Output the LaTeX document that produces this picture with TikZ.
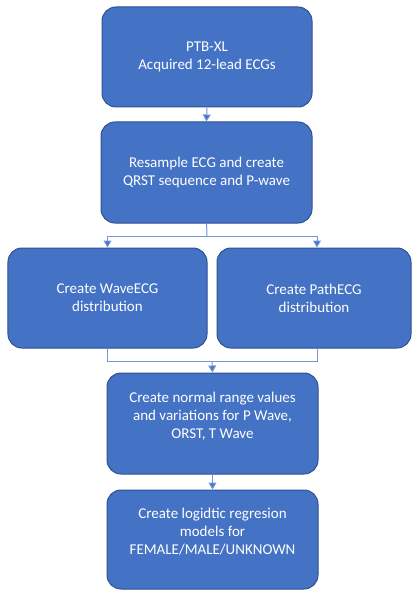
\documentclass[tikz,border=0pt]{standalone}
\usepackage{fontspec}
\setmainfont{Carlito}
\usetikzlibrary{arrows.meta}
\definecolor{boxfill}{HTML}{4472C4}
\definecolor{boxline}{HTML}{2F528F}
\definecolor{conn}{HTML}{7396D6}
\begin{document}
\begin{tikzpicture}[x=1bp,y=-1bp,
  box/.style={draw=boxline, line width=1bp, fill=boxfill, rounded corners=14bp,
    text=white, align=center, font=\fontsize{15bp}{18bp}\selectfont, inner sep=0pt},
  raised/.style={text depth=16bp},
  conline/.style={draw=conn, line width=1bp},
  arr/.style={conline, -{Triangle[length=7bp,width=8bp,fill=boxfill]}}]
\useasboundingbox (0,0) rectangle (412,590);
\node[box, minimum width=210bp, minimum height=100bp] (b1) at (207,57) {PTB-XL\\Acquired 12-lead ECGs};
\node[box, minimum width=211bp, minimum height=101bp] (b2) at (206.5,172.5) {Resample ECG and create\\QRST sequence and P-wave};
\node[box, minimum width=199bp, minimum height=100bp] (b3) at (107.5,298) {Create WaveECG\\distribution};
\node[box, minimum width=194bp, minimum height=100bp] (b4) at (314,298) {Create PathECG\\distribution};
\node[box, raised, minimum width=211bp, minimum height=101bp] (b5) at (212.5,423.5) {Create normal range values\\and variations for P Wave,\\ORST, T Wave};
\node[box, raised, minimum width=211bp, minimum height=99bp] (b6) at (212.5,539.5) {Create logidtic regresion\\models for\\FEMALE/MALE/UNKNOWN};
\coordinate (s1) at (207,236);
\coordinate (s2) at (212,361);
\draw[arr] (b1.south) -- (b2.north);
\draw[conline] (b2.south) -- (s1);
\draw[arr] (s1) -| (b3.north);
\draw[arr] (s1) -| ([xshift=3bp]b4.north);
\draw[conline] (b3.south) |- (s2);
\draw[conline] ([xshift=3bp]b4.south) |- (s2);
\draw[arr] (s2) -- (b5.north);
\draw[arr] (b5.south) -- (b6.north);
\end{tikzpicture}
\end{document}
